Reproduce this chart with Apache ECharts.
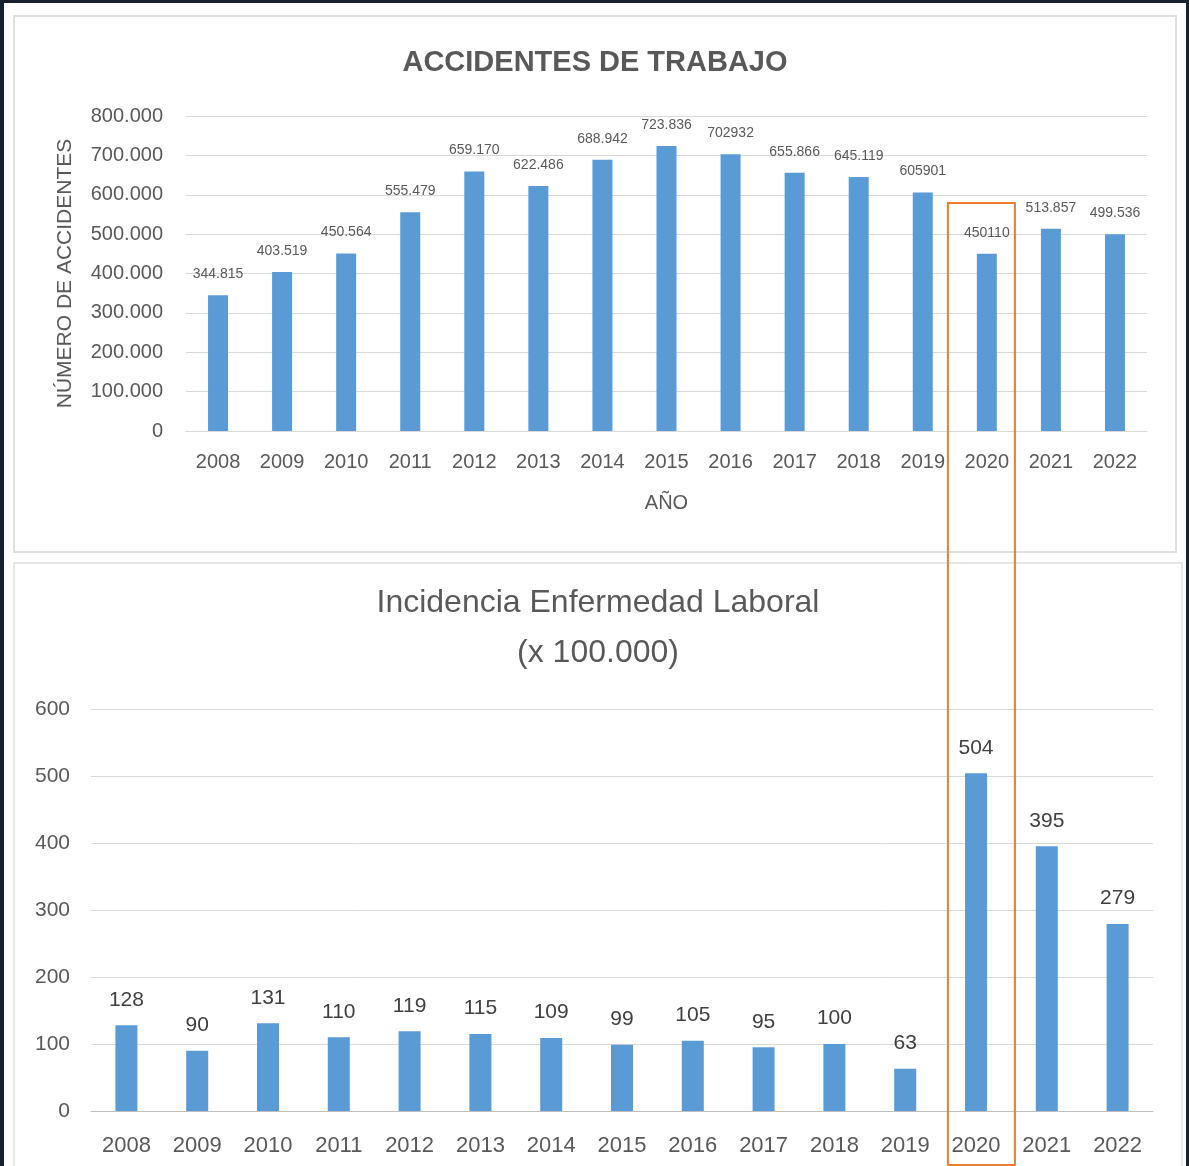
<!DOCTYPE html>
<html>
<head>
<meta charset="utf-8">
<script src="https://cdn.jsdelivr.net/npm/echarts@6/dist/echarts.min.js"></script>
<style>
html,body{margin:0;padding:0;background:#16212c;}
#chart{width:1189px;height:1166px;}
</style>
</head>
<body>
<div id="chart"></div>
<script>
const years = ['2008','2009','2010','2011','2012','2013','2014','2015','2016','2017','2018','2019','2020','2021','2022'];
const accidentes = [344815, 403519, 450564, 555479, 659170, 622486, 688942, 723836, 702932, 655866, 645119, 605901, 450110, 513857, 499536];
const accidentesLabels = ['344.815','403.519','450.564','555.479','659.170','622.486','688.942','723.836','702932','655.866','645.119','605901','450110','513.857','499.536'];
const incidencia = [128, 90, 131, 110, 119, 115, 109, 99, 105, 95, 100, 63, 504, 395, 279];
const highlightYear = '2020';

const FONT = "'Liberation Sans', 'Open Sans', sans-serif";
const TXT = '#595959';
const BAR = '#5b9bd5';

const chart = echarts.init(document.getElementById('chart'), null, {renderer:'canvas'});

function fmtThousands(v){
  return v === 0 ? '0' : String(v).replace(/\B(?=(\d{3})+(?!\d))/g, '.');
}

const option = {
  backgroundColor: '#16212c',
  animation: false,
  title: [
    {text:'ACCIDENTES DE TRABAJO', left:590, top:43, textAlign:'center',
     textStyle:{fontFamily:FONT, fontSize:29, fontWeight:'bold', color:TXT}},
    {text:'Incidencia Enfermedad Laboral\n(x 100.000)', left:593, top:573, textAlign:'center',
     textStyle:{fontFamily:FONT, fontSize:32, fontWeight:'normal', color:TXT, lineHeight:50}}
  ],
  grid: [
    {left:186, right:42, top:116, height:315},
    {left:91, right:36, top:709, height:402}
  ],
  xAxis: [
    {type:'category', gridIndex:0, data:years,
     axisLine:{lineStyle:{color:'#d9d9d9'}}, axisTick:{show:false},
     axisLabel:{fontFamily:FONT, fontSize:20, color:TXT, margin:21},
     name:'AÑO', nameLocation:'middle', nameGap:62,
     nameTextStyle:{fontFamily:FONT, fontSize:20, color:TXT}},
    {type:'category', gridIndex:1, data:years,
     axisLine:{lineStyle:{color:'#bfbfbf'}}, axisTick:{show:false},
     axisLabel:{fontFamily:FONT, fontSize:22, color:TXT, margin:24}}
  ],
  yAxis: [
    {type:'value', gridIndex:0, min:0, max:800000, interval:100000,
     axisLine:{show:false}, axisTick:{show:false},
     splitLine:{lineStyle:{color:'#d9d9d9'}},
     axisLabel:{fontFamily:FONT, fontSize:20, color:TXT, margin:23, formatter:fmtThousands},
     name:'NÚMERO DE ACCIDENTES', nameLocation:'middle', nameGap:110, nameRotate:90,
     nameTextStyle:{fontFamily:FONT, fontSize:21, color:TXT}},
    {type:'value', gridIndex:1, min:0, max:600, interval:100,
     axisLine:{show:false}, axisTick:{show:false},
     splitLine:{lineStyle:{color:'#d9d9d9'}},
     axisLabel:{fontFamily:FONT, fontSize:21, color:TXT, margin:21}}
  ],
  series: [
    {type:'bar', xAxisIndex:0, yAxisIndex:0, data:accidentes, barWidth:20,
     itemStyle:{color:BAR},
     label:{show:true, position:'top', distance:14, fontFamily:FONT, fontSize:14, color:TXT,
       formatter:p => accidentesLabels[p.dataIndex]}},
    {type:'bar', xAxisIndex:1, yAxisIndex:1, data:incidencia, barWidth:22,
     itemStyle:{color:BAR},
     label:{show:true, position:'top', distance:15, fontFamily:FONT, fontSize:21, color:'#404040'}}
  ]
};
chart.setOption(option);

const idx = years.indexOf(highlightYear);
const xTop = chart.convertToPixel({xAxisIndex:0}, idx);
const xBot = chart.convertToPixel({xAxisIndex:1}, idx);
const cx = (xTop + xBot) / 2;

chart.setOption({
  graphic: [
    {type:'rect', z:-10, silent:true, shape:{x:4, y:3, width:1182, height:1170}, style:{fill:'#ffffff'}},
    {type:'rect', z:-9, silent:true, shape:{x:14, y:16, width:1162, height:536}, style:{fill:'#ffffff', stroke:'#e0e0e0', lineWidth:2}},
    {type:'rect', z:-9, silent:true, shape:{x:14, y:563, width:1168, height:610}, style:{fill:'#ffffff', stroke:'#e6e6e6', lineWidth:2}},
    {type:'rect', z:100, silent:true, shape:{x:cx - 33.5, y:203, width:67, height:962}, style:{fill:'none', stroke:'#ed7d31', lineWidth:2}}
  ]
});
</script>
</body>
</html>
